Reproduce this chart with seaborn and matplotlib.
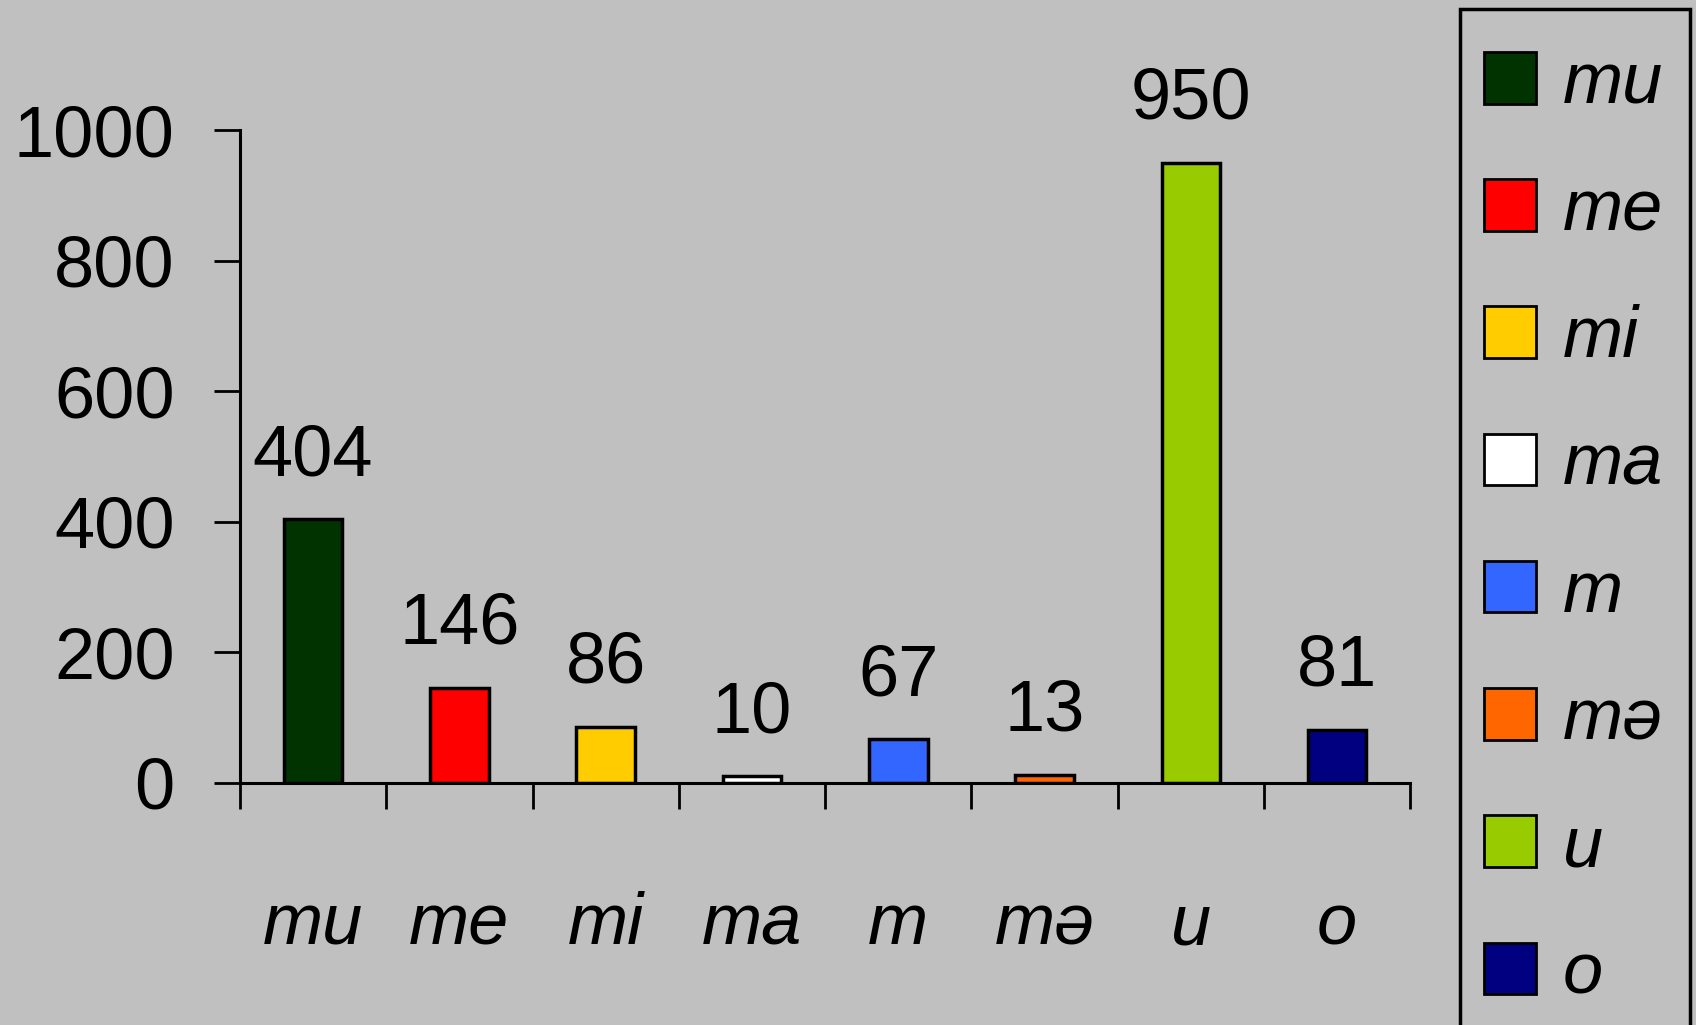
import matplotlib
matplotlib.use('Agg')
import matplotlib.pyplot as plt
import seaborn as sns
from matplotlib.patches import Patch, Rectangle

categories = ['mu', 'me', 'mi', 'ma', 'm', 'mə', 'u', 'o']
counts = [404, 146, 86, 10, 67, 13, 950, 81]
colors = ['#003300', '#FF0000', '#FFCC00', '#FFFFFF', '#3366FF', '#FF6600', '#99CC00', '#000080']
yticks = [0, 200, 400, 600, 800, 1000]

bg = '#C0C0C0'
sns.set_style('white')
plt.rcParams['font.family'] = ['Liberation Sans', 'DejaVu Sans']
plt.rcParams['text.color'] = 'black'
plt.rcParams['xtick.color'] = 'black'
plt.rcParams['ytick.color'] = 'black'

fig = plt.figure(figsize=(16.96, 10.25), dpi=100, facecolor=bg)
ax = fig.add_axes([0.1415, 0.2361, 0.690, 0.637], facecolor=bg)

sns.barplot(x=categories, y=counts, hue=categories, palette=colors, legend=False,
            width=0.4, edgecolor='black', linewidth=2.5, saturation=1, ax=ax)

for cont in ax.containers:
    ax.bar_label(cont, padding=21, fontsize=52, color='black')

ax.set_ylim(0, 1000)
ax.set_xlim(-0.5, len(categories) - 0.5)
ax.set_yticks(yticks)
ax.set_yticklabels([str(v) for v in yticks], fontsize=52, color='black')
ax.tick_params(axis='y', left=True, direction='out', length=19, width=2, pad=28,
               color='black', labelcolor='black')

# category labels under the bars, ticks between categories
ax.set_xticks(range(len(categories)))
ax.set_xticklabels(categories, fontsize=52, style='italic', color='black')
ax.tick_params(axis='x', which='major', bottom=True, length=0, pad=78, labelcolor='black')
ax.set_xticks([i - 0.5 for i in range(len(categories) + 1)], minor=True)
ax.tick_params(axis='x', which='minor', bottom=True, direction='out', length=19, width=2,
               color='black')

for s in ['top', 'right']:
    ax.spines[s].set_visible(False)
for s in ['left', 'bottom']:
    ax.spines[s].set_color('black')
    ax.spines[s].set_linewidth(2.2)
ax.set_xlabel('')
ax.set_ylabel('')

# legend box runs off the bottom of the picture
fig.patches.append(Rectangle((1460 / 1696, -0.05), 230 / 1696, 1.05 - 9 / 1025,
                             transform=fig.transFigure, facecolor=bg, edgecolor='black',
                             linewidth=2.5, zorder=0))

handles = [Patch(facecolor=c, edgecolor='black', linewidth=2) for c in colors]
leg = fig.legend(handles, categories, loc='upper left',
                 bbox_to_anchor=(1484 / 1696, 1 - 50 / 1025),
                 frameon=False, prop={'style': 'italic', 'size': 52},
                 handlelength=0.72, handleheight=0.72, handletextpad=0.37, borderpad=0,
                 labelspacing=0.82, borderaxespad=0)
for t in leg.get_texts():
    t.set_color('black')

fig.savefig('out.png', dpi=100, facecolor=bg)
